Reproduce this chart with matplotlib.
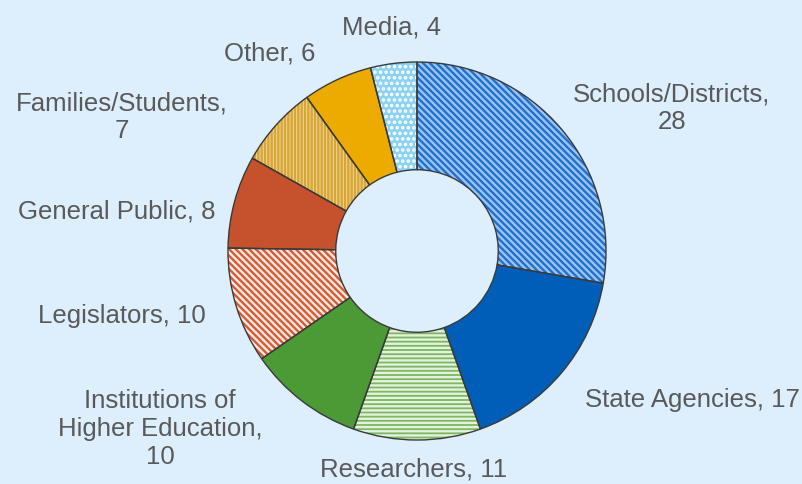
import matplotlib
matplotlib.use("Agg")
import matplotlib.pyplot as plt

plt.rcParams['font.family'] = ['Liberation Sans', 'DejaVu Sans']
plt.rcParams['hatch.linewidth'] = 1.7

# data (clockwise from 12 o'clock)
categories = ['Schools/Districts', 'State Agencies', 'Researchers',
              'Institutions of Higher Education', 'Legislators',
              'General Public', 'Families/Students', 'Other', 'Media']
values = [28, 17, 11, 10, 10, 8, 7, 6, 4]
face_colors = ['#9CC6F1', '#005EB8', '#7CB862', '#4C9A36', '#FCEAE4',
               '#C5522C', '#F3D68E', '#EDAB00', '#8CD3F3']
hatch_colors = ['#2270CC', '#005EB8', '#E4F1DC', '#4C9A36', '#D65A34',
                '#C5522C', '#D6A63A', '#EDAB00', '#FFFFFF']
hatches = ['\\' * 5, '', '----', '', '\\' * 5, '', '|' * 5, '', '...']

# label text and pixel centres
label_text = ['Schools/Districts,\n28', 'State Agencies, 17', 'Researchers, 11',
              'Institutions of\nHigher Education,\n10', 'Legislators, 10',
              'General Public, 8', 'Families/Students,\n7', 'Other, 6', 'Media, 4']
label_px = [(672, 108), (692, 400), (414, 470), (160, 429), (122, 316),
            (117, 211), (122, 117), (270, 53), (392, 27)]

W, H = 803, 485
bg = '#DDEEFC'
fig = plt.figure(figsize=(W / 100, H / 100), dpi=100, facecolor=bg)
ax = fig.add_axes([0, 0, 1, 1])
ax.set_facecolor(bg)

cx, cy, r = 417, 252, 189
ring = dict(width=0.57)

# base fill
ax.pie(values, colors=face_colors, startangle=90, counterclock=False,
       radius=1, wedgeprops=dict(linewidth=0, **ring))
# hatch overlay
wedges, _ = ax.pie(values, startangle=90, counterclock=False, radius=1,
                   wedgeprops=dict(linewidth=0, **ring))
for w, h, hc in zip(wedges, hatches, hatch_colors):
    w.set_facecolor('none')
    w.set_hatch(h)
    w.set_edgecolor(hc)
# outlines
wedges, _ = ax.pie(values, startangle=90, counterclock=False, radius=1,
                   wedgeprops=dict(linewidth=1.0, edgecolor='#3A3A3A', **ring))
for w in wedges:
    w.set_facecolor('none')

ax.set_xlim(-cx / r, (W - cx) / r)
ax.set_ylim(-(H - cy) / r, cy / r)
ax.set_aspect('auto')
ax.axis('off')

for txt, (px, py) in zip(label_text, label_px):
    fig.text(px / W, 1 - py / H, txt, ha='center', va='center',
             fontsize=18.5, color='#595959', linespacing=1.2)

fig.savefig('out.png', dpi=100, facecolor=bg)
